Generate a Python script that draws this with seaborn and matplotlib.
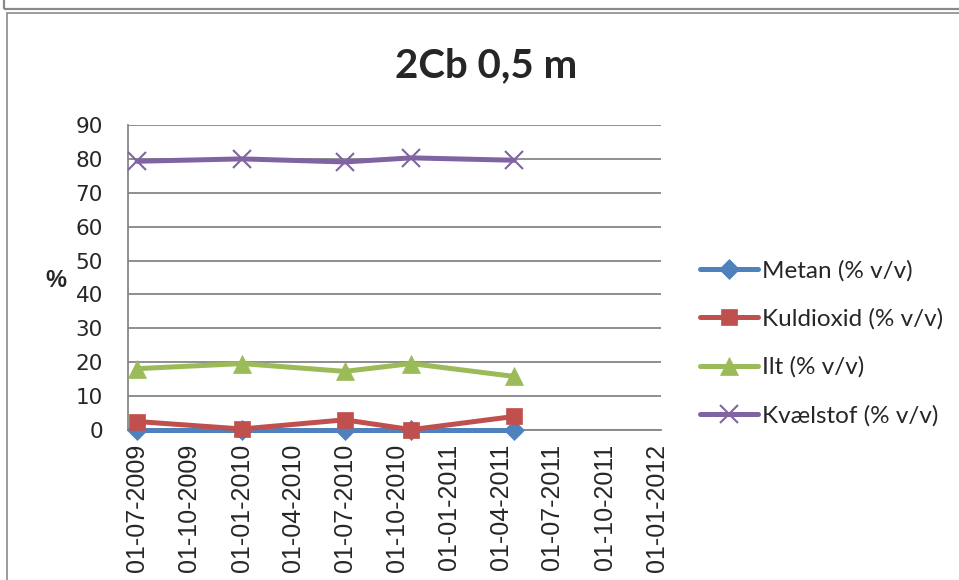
import matplotlib
matplotlib.use("Agg")
import matplotlib.pyplot as plt
import matplotlib.dates as mdates
from matplotlib.patches import Rectangle
import seaborn as sns
import pandas as pd

# sampling dates and gas readings (% v/v)
dates = pd.to_datetime(["2009-07-01", "2010-01-01", "2010-07-01", "2010-10-26", "2011-04-25"])
metan = [0.0, 0.0, 0.0, 0.0, 0.0]
kuldioxid = [2.5, 0.3, 3.0, 0.1, 4.0]
ilt = [18.1, 19.6, 17.3, 19.6, 15.8]
kvaelstof = [79.3, 80.0, 79.1, 80.3, 79.6]

labels = ["Metan (% v/v)", "Kuldioxid (% v/v)", "Ilt (% v/v)", "Kvælstof (% v/v)"]
colors = ["#4F81BD", "#C0504D", "#9BBB59", "#8064A2"]
markers = ["D", "s", "^", "x"]
msizes = [10, 12, 13, 13]

sns.set_style("white")
plt.rcParams['font.family'] = ['Liberation Sans', 'DejaVu Sans']

W, H = 959, 580
fig = plt.figure(figsize=(W / 100, H / 100), dpi=100)
ax = fig.add_axes([128 / W, 1 - 430 / H, (661 - 128) / W, (430 - 125) / H])

for vals, lab, c, m, ms in zip([metan, kuldioxid, ilt, kvaelstof], labels, colors, markers, msizes):
    sns.lineplot(x=dates, y=vals, ax=ax, color=c, lw=3.6, marker=m, markersize=ms,
                 markeredgecolor=c, markeredgewidth=1.5 if m == "x" else 0.5,
                 label=lab, legend=False, clip_on=False, zorder=3)

ax.set_ylim(0, 90)
ax.set_yticks(range(0, 91, 10))
ax.set_xlim(pd.Timestamp("2009-06-15"), pd.Timestamp("2012-01-08"))
ax.xaxis.set_major_locator(mdates.MonthLocator(bymonth=[1, 4, 7, 10]))
ax.xaxis.set_major_formatter(mdates.DateFormatter("%d-%m-%Y"))
ax.yaxis.grid(True, color="#868686", lw=1.3)
ax.xaxis.grid(False)
for s in ["top", "right"]:
    ax.spines[s].set_visible(False)
ax.spines["left"].set_color("#868686")
ax.spines["bottom"].set_color("#868686")
ax.spines["left"].set_linewidth(1.3)
ax.spines["bottom"].set_linewidth(1.3)
ax.tick_params(axis="y", length=0, pad=18, labelsize=15.5)
ax.tick_params(axis="x", length=0, pad=10, labelsize=18, labelrotation=90)
for t in ax.get_yticklabels():
    t.set_fontfamily("DejaVu Sans")
ax.set_xlabel("")
ax.set_ylabel("%", rotation=0, fontsize=17, fontweight="bold", labelpad=28, va="center")
ax.yaxis.set_label_coords(-0.135, 0.49)

fig.text(486 / W, 1 - 66 / H, "2Cb 0,5 m", ha="center", va="center",
         fontsize=29, fontweight="bold", family="Lato")

handles, labs = ax.get_legend_handles_labels()
fig.legend(handles, labs, loc="upper left", bbox_to_anchor=(700 / W, 1 - 260 / H),
           frameon=False, borderpad=0, borderaxespad=0, handlelength=2.4,
           handletextpad=0.15, labelspacing=1.1, prop={"family": "Lato", "size": 17.5})

# chart frames (Excel style)
fig.add_artist(Rectangle((7 / W, -0.1), 1.2, 1.1 - 13.5 / H, transform=fig.transFigure,
                         fill=False, ec="#8a8a8a", lw=1.2))
fig.add_artist(Rectangle((4 / W, 1 - 8.5 / H), 1.2, 0.2, transform=fig.transFigure,
                         fill=False, ec="#8a8a8a", lw=1.6))

fig.savefig("out.png", dpi=100)
